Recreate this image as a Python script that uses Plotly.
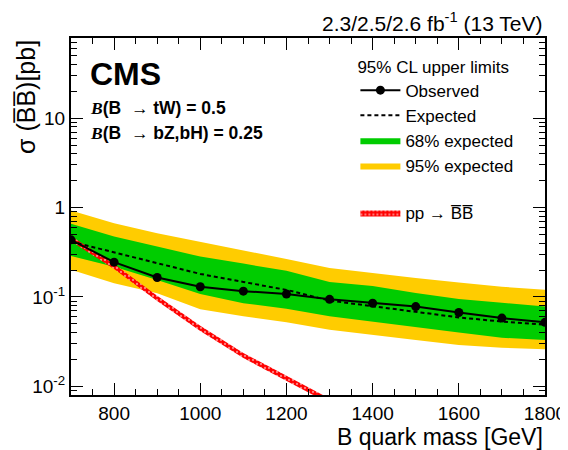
import plotly.graph_objects as go

# masses where limits were computed (GeV)
mass = [700, 800, 900, 1000, 1100, 1200, 1300, 1400, 1500, 1600, 1700, 1800]

# 95% CL upper limits on sigma(BBbar) [pb]
observed = [0.435, 0.245, 0.165, 0.130, 0.116, 0.108, 0.094, 0.085, 0.078, 0.067, 0.058, 0.052]
expected = [0.416, 0.314, 0.236, 0.181, 0.147, 0.120, 0.091, 0.079, 0.069, 0.059, 0.053, 0.049]
exp68_up = [0.657, 0.473, 0.366, 0.283, 0.236, 0.196, 0.147, 0.133, 0.111, 0.095, 0.086, 0.078]
exp68_dn = [0.288, 0.218, 0.155, 0.108, 0.085, 0.074, 0.061, 0.053, 0.046, 0.040, 0.035, 0.033]
exp95_up = [0.926, 0.669, 0.517, 0.416, 0.333, 0.266, 0.211, 0.184, 0.163, 0.145, 0.130, 0.120]
exp95_dn = [0.201, 0.142, 0.110, 0.073, 0.061, 0.052, 0.043, 0.038, 0.033, 0.029, 0.027, 0.026]

# theory cross section pp -> BBbar (band)
theory_mass = [700, 800, 900, 1000, 1100, 1200, 1300]
theory_up = [0.48, 0.234, 0.103, 0.0477, 0.0236, 0.0131, 0.0073]
theory_dn = [0.42, 0.205, 0.090, 0.0417, 0.0207, 0.0114, 0.0064]

fnt = "Liberation Sans, Arial, Helvetica, sans-serif"

fig = go.Figure()

# bandas esperadas
fig.add_trace(go.Scatter(
    x=mass + mass[::-1], y=exp95_up + exp95_dn[::-1], mode="lines",
    fill="toself", fillcolor="#FFCC00", line=dict(width=0),
    name="95% expected", legendgroup="lim", legendrank=4, hoverinfo="skip"))
fig.add_trace(go.Scatter(
    x=mass + mass[::-1], y=exp68_up + exp68_dn[::-1], mode="lines",
    fill="toself", fillcolor="#00CC00", line=dict(width=0),
    name="68% expected", legendgroup="lim", legendrank=3, hoverinfo="skip"))

# teoria
fig.add_trace(go.Scatter(
    x=theory_mass + theory_mass[::-1], y=theory_up + theory_dn[::-1], mode="lines",
    fill="toself", fillcolor="red", line=dict(width=0, color="red"),
    fillpattern=dict(shape=".", bgcolor="red", fgcolor="white", size=4, solidity=0.25),
    name="pp \u2192 B\u0305B\u0305", legendgroup="th", legendrank=5, hoverinfo="skip"))

fig.add_trace(go.Scatter(
    x=mass, y=expected, mode="lines",
    line=dict(color="black", width=2, dash="4px,3px"),
    name="Expected", legendgroup="lim", legendrank=2))
fig.add_trace(go.Scatter(
    x=mass, y=observed, mode="lines+markers",
    line=dict(color="black", width=2),
    marker=dict(color="black", size=9),
    name="Observed", legendgroup="lim", legendrank=1))

# page body adds an 8px margin, so the figure is a bit smaller than the window
fig.update_layout(
    width=560, height=442,
    margin=dict(l=63, r=23, t=30, b=55),
    plot_bgcolor="white", paper_bgcolor="white",
    font=dict(family=fnt, size=18, color="black"),
    legend=dict(
        x=0.6, y=0.965, xanchor="left", yanchor="top",
        bgcolor="rgba(0,0,0,0)", font=dict(size=17), itemwidth=40,
        title=dict(text="95% CL upper limits", font=dict(size=17)),
        traceorder="grouped", tracegroupgap=22),
)

fig.update_xaxes(
    range=[700, 1800], dtick=200, showgrid=False, zeroline=False, automargin=False,
    showline=True, linewidth=2, linecolor="black", mirror="allticks",
    ticks="inside", ticklen=12, tickwidth=1, tickcolor="black",
    minor=dict(dtick=50, ticks="inside", ticklen=6, tickcolor="black", showgrid=False),
    tickfont=dict(size=19))
fig.update_yaxes(
    type="log", range=[-2.097, 1.897], showgrid=False, zeroline=False, automargin=False,
    showline=True, linewidth=2, linecolor="black", mirror="allticks",
    tickvals=[0.01, 0.1, 1, 10],
    ticktext=["10<sup>-2</sup>", "10<sup>-1</sup>", "1", "10"],
    ticks="inside", ticklen=12, tickwidth=1, tickcolor="black",
    minor=dict(dtick="D1", ticks="inside", ticklen=6, tickcolor="black", showgrid=False),
    tickfont=dict(size=19))

# textos
fig.add_annotation(text="2.3/2.5/2.6 fb<sup>-1</sup> (13 TeV)", xref="paper", yref="paper",
                   x=1, y=1, xanchor="right", yanchor="bottom", yshift=1,
                   showarrow=False, font=dict(size=21))
fig.add_annotation(text="<b>CMS</b>", xref="paper", yref="paper",
                   x=0.036, y=0.955, xanchor="left", yanchor="top",
                   showarrow=False, font=dict(size=32))
serifB = "<span style=\"font-family:'Liberation Serif'\"><i>B</i></span>"
fig.add_annotation(text="<b>" + serifB + "(B  \u2192 tW) = 0.5</b>", xref="paper", yref="paper",
                   x=0.036, y=0.804, xanchor="left", yanchor="middle",
                   showarrow=False, font=dict(size=17.5))
fig.add_annotation(text="<b>" + serifB + "(B  \u2192 bZ,bH) = 0.25</b>", xref="paper", yref="paper",
                   x=0.036, y=0.734, xanchor="left", yanchor="middle",
                   showarrow=False, font=dict(size=17.5))
fig.add_annotation(text="B quark mass [GeV]", xref="paper", yref="paper",
                   x=1, y=0, xanchor="right", yanchor="top", yshift=-27,
                   showarrow=False, font=dict(size=23))
fig.add_annotation(text="\u03c3 (B\u0305B\u0305)[pb]", xref="paper", yref="paper",
                   x=0, y=1, xanchor="center", yanchor="top", xshift=-45,
                   textangle=-90, showarrow=False, font=dict(size=25))

fig.write_html("out.html")
